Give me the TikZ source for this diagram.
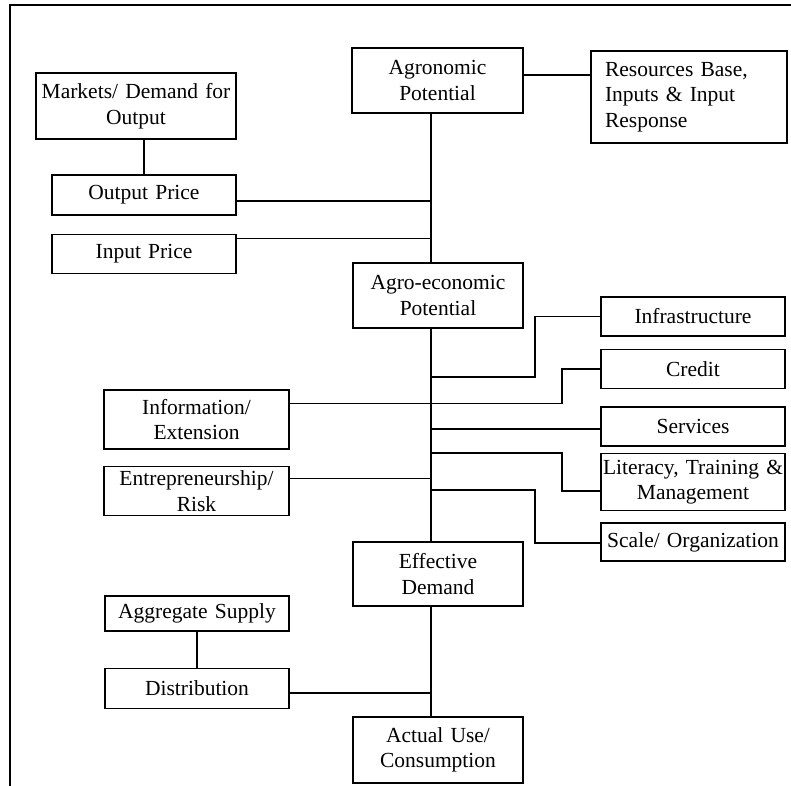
\documentclass[tikz,border=0pt]{standalone}
\usepackage{fontspec}
\setmainfont{Liberation Serif}
\usetikzlibrary{positioning}

\begin{document}
\begin{tikzpicture}[x=1pt,y=-1pt,line width=1.2pt]
\tikzstyle{every node} = [draw, rectangle, line width=1.5pt, inner sep=0pt, align=center, font=\fontsize{21.5}{25.5}\selectfont];
\useasboundingbox (0,0) rectangle (791,785);
\draw (10,5) rectangle (810,805);
\coordinate (sp) at (431,0);
% main chain
\node[text width=171pt, minimum height=65pt] (agro) at (437.5,80.5) {Agronomic\\Potential};
\node[text width=170pt, minimum height=65pt] (agroeco) at (438,295.5) {Agro-economic\\Potential};
\node[text width=170pt, minimum height=64pt] (eff) at (438,574) {Effective\\Demand};
\node[text width=170pt, minimum height=66pt] (use) at (438,750) {Actual Use/\\Consumption};
\node[text width=168pt, minimum height=92pt, align=left, inner xsep=14pt] (res) at (689,97) {Resources Base,\\Inputs \& Input\\Response};
% left column
\node[text width=200pt, minimum height=66pt] (mkt) at (136,106) {Markets/ Demand for\\Output};
\node[text width=184pt, minimum height=40pt] (outp) at (144,195) {Output Price};
\node[text width=184pt, minimum height=39pt, below=18pt of outp] (inp) {Input Price};
\node[text width=185pt, minimum height=59pt] (info) at (196.5,419.5) {Information/\\Extension};
\node[text width=185pt, minimum height=49pt, below=16pt of info] (entre) {Entrepreneurship/\\Risk};
\node[text width=184pt, minimum height=35pt] (agg) at (197,613.5) {Aggregate Supply};
\node[text width=184pt, minimum height=40pt, below=36pt of agg] (dist) {Distribution};
% right column
\node[text width=184pt, minimum height=39pt] (infra) at (693,316.5) {Infrastructure};
\node[text width=184pt, minimum height=39pt, below=12pt of infra] (credit) {Credit};
\node[text width=184pt, minimum height=39pt, below=17pt of credit] (serv) {Services};
\node[text width=184pt, minimum height=57pt, below=6pt of serv] (lit) {Literacy, Training \&\\Management};
\node[text width=184pt, minimum height=38pt, below=11pt of lit] (scale) {Scale/ Organization};
% spine
\draw (agro.south -| sp) -- (agroeco.north -| sp);
\draw (agroeco.south -| sp) -- (eff.north -| sp);
\draw (eff.south -| sp) -- (use.north -| sp);
\draw (agro.east |- 0,75) -- (res.west |- 0,75);
\draw (outp.north) -- (mkt.south -| outp.north);
\draw (outp.east |- 0,201) -- (sp |- 0,201);
\draw (inp.east |- 0,238.5) -- (sp |- 0,238.5);
\draw (infra.west) -| (535,377) -- (sp |- 0,377);
\draw (info.east |- 0,403.5) -- (562,403.5) |- (credit.west);
\draw (serv.west |- 0,429) -- (sp |- 0,429);
\draw (lit.west |- 0,491) -| (562,453) -- (sp |- 0,453);
\draw (entre.east |- 0,478.5) -- (sp |- 0,478.5);
\draw (scale.west |- 0,543) -| (535,490) -- (sp |- 0,490);
\draw (agg.south) -- (dist.north);
\draw (dist.east |- 0,693) -- (sp |- 0,693);
\end{tikzpicture}
\end{document}
